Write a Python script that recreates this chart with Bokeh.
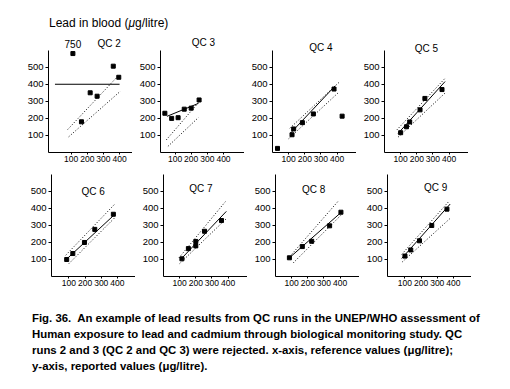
from bokeh.plotting import figure
from bokeh.layouts import column, row
from bokeh.models import Div, FixedTicker, Range1d, Spacer
from bokeh.core.properties import value
from bokeh.embed import file_html
from bokeh.resources import INLINE
import numpy as np

FONT = "Liberation Sans"

# ---------------- data ----------------
panel_names = ["QC 2", "QC 3", "QC 4", "QC 5", "QC 6", "QC  7", "QC 8", "QC 9"]

# reference value (x) and reported value (y) per QC run
qc2_ref = [111, 164, 218, 261, 361, 395]
qc2_rep = [750, 180, 350, 330, 506, 441]
qc3_ref = [37, 79, 119, 157, 200, 249]
qc3_rep = [230, 200, 204, 254, 260, 308]
qc4_ref = [31, 121, 131, 185, 253, 381, 431]
qc4_rep = [24, 104, 138, 175, 226, 372, 213]
qc5_ref = [100, 136, 156, 220, 250, 356]
qc5_rep = [116, 151, 179, 250, 317, 369]
qc6_ref = [86, 124, 196, 260, 375]
qc6_rep = [100, 135, 200, 277, 366]
qc7_ref = [114, 154, 200, 200, 254, 359]
qc7_rep = [104, 164, 206, 180, 266, 329]
qc8_ref = [86, 166, 224, 335, 405]
qc8_rep = [110, 176, 207, 298, 378]
qc9_ref = [100, 136, 190, 266, 360]
qc9_rep = [120, 156, 210, 300, 396]

# fitted (solid) line end points
qc2_fit = ([0, 400], [400, 400])
qc3_fit = ([50, 245], [212, 288])
qc4_fit = ([111, 388], [113, 391])
qc5_fit = ([84, 375], [112, 416])
qc6_fit = ([90, 380], [106, 362])
qc7_fit = ([106, 389], [100, 383])
qc8_fit = ([86, 410], [110, 380])
qc9_fit = ([80, 380], [106, 426])

# upper / lower acceptance limits (dotted)
qc2_up = ([79, 379], [135, 437]);  qc2_lo = ([85, 406], [92, 360])
qc3_up = ([46, 245], [74, 293]);   qc3_lo = ([56, 246], [36, 206])
qc4_up = ([107, 414], [142, 413]); qc4_lo = ([100, 410], [81, 353])
qc5_up = ([76, 375], [132, 435]);  qc5_lo = ([84, 380], [90, 353])
qc6_up = ([80, 383], [125, 425]);  qc6_lo = ([100, 383], [76, 345])
qc7_up = ([96, 383], [110, 440]);  qc7_lo = ([100, 389], [76, 340])
qc8_up = ([100, 390], [130, 445]); qc8_lo = ([110, 410], [80, 365])
qc9_up = ([80, 375], [130, 445]);  qc9_lo = ([84, 380], [86, 342])

x_ticks = [100, 200, 300, 400]
y_ticks = [100, 200, 300, 400, 500]
y_axis_max = 600
off_scale_cap = 580   # values above the axis are drawn at the top and labelled

# axis ranges per panel
x_lo = [-40, 10, 0, 0, -8, 0, 0, -8]
x_span = 520
label_pos = [(336, 640), (275, 643), (300, 615), (260, 612),
             (250, 500), (240, 518), (236, 514), (290, 525)]

refs = [qc2_ref, qc3_ref, qc4_ref, qc5_ref, qc6_ref, qc7_ref, qc8_ref, qc9_ref]
reps = [qc2_rep, qc3_rep, qc4_rep, qc5_rep, qc6_rep, qc7_rep, qc8_rep, qc9_rep]
fits = [qc2_fit, qc3_fit, qc4_fit, qc5_fit, qc6_fit, qc7_fit, qc8_fit, qc9_fit]
ups = [qc2_up, qc3_up, qc4_up, qc5_up, qc6_up, qc7_up, qc8_up, qc9_up]
los = [qc2_lo, qc3_lo, qc4_lo, qc5_lo, qc6_lo, qc7_lo, qc8_lo, qc9_lo]


def make_panel(i, frame_h, y_top):
    p = figure(frame_width=84, frame_height=frame_h,
               x_range=Range1d(x_lo[i], x_lo[i] + x_span),
               y_range=Range1d(0, y_top),
               output_backend="svg", toolbar_location=None,
               min_border_left=28, min_border_right=0,
               min_border_top=0, min_border_bottom=16)
    p.outline_line_color = None
    p.grid.visible = False
    p.background_fill_color = "white"
    p.border_fill_color = "white"

    p.xaxis.ticker = FixedTicker(ticks=x_ticks)
    p.yaxis.ticker = FixedTicker(ticks=y_ticks)
    p.yaxis.bounds = (0, y_axis_max)
    for ax in (p.xaxis, p.yaxis):
        ax.axis_line_color = "black"
        ax.axis_line_width = 1
        ax.major_tick_line_color = "black"
        ax.major_tick_in = 0
        ax.minor_tick_line_color = None
        ax.major_label_text_font = FONT
        ax.major_label_text_color = "black"
    p.yaxis.major_label_text_font_size = "9.5px"
    p.xaxis.major_label_text_font_size = "8.5px"
    p.yaxis.major_tick_out = 3
    p.yaxis.major_label_standoff = 2
    p.xaxis.major_tick_out = 2
    p.xaxis.major_label_standoff = 1

    fx, fy = fits[i]
    ux, uy = ups[i]
    lx, ly = los[i]
    p.line(fx, fy, line_color="black", line_width=1)
    p.line(ux, uy, line_color="black", line_width=1, line_dash="1 2")
    p.line(lx, ly, line_color="black", line_width=1, line_dash="1 2")

    yv = np.array(reps[i], dtype=float)
    xv = np.array(refs[i], dtype=float)
    shown = np.minimum(yv, off_scale_cap)
    p.scatter(xv, shown, marker="square", size=4, color="black")

    off = yv > y_axis_max
    if off.any():
        p.text(x=xv[off], y=shown[off] + 55,
               text=[str(int(v)) for v in yv[off]],
               text_font=value(FONT), text_font_size="10px",
               text_align="center", text_baseline="middle", text_color="black")

    lxp, lyp = label_pos[i]
    p.text(x=[lxp], y=[lyp], text=[panel_names[i]],
           text_font=value(FONT), text_font_size="10px",
           text_align="center", text_baseline="middle", text_color="black")
    return p


figs_top = [make_panel(i, 116, 680) for i in range(4)]
figs_bot = [make_panel(i, 108, 635) for i in range(4, 8)]

title_div = Div(
    text=('<div style="font-family:\'Liberation Sans\';font-size:12px;'
          'line-height:16px;padding:15px 0 0 49px;color:black;white-space:nowrap">'
          'Lead in blood (<i>&mu;</i>g/litre)</div>'),
    width=494, height=36, margin=0)

caption_lines = [
    "Fig. 36.&nbsp; An example of lead results from QC runs in the UNEP/WHO assessment of",
    "Human exposure to lead and cadmium through biological monitoring study. QC",
    "runs 2 and 3 (QC 2 and QC 3) were rejected. x-axis, reference values (&mu;g/litre);",
    "y-axis, reported values (&mu;g/litre).",
]
caption_div = Div(
    text=('<div style="font-family:\'Liberation Sans\';font-size:11.4px;font-weight:bold;'
          'line-height:16px;padding:18px 0 0 32px;color:black;white-space:nowrap">'
          + "<br>".join(caption_lines) + '</div>'),
    width=500, height=86, margin=0)

row1 = row(Spacer(width=20, height=132), *figs_top, spacing=0)
row2 = row(Spacer(width=23, height=124), *figs_bot, spacing=0)
layout = column(title_div, row1, row2, caption_div, spacing=0)

open("out.html", "w").write(file_html(layout, INLINE))
